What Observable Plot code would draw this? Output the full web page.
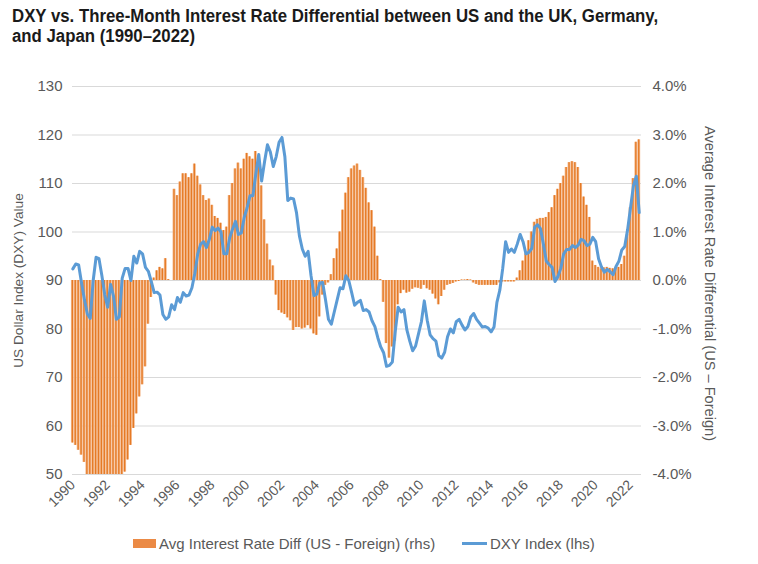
<!DOCTYPE html>
<html>
<head>
<meta charset="utf-8">
<script src="https://cdn.jsdelivr.net/npm/d3@7"></script>
<script src="https://cdn.jsdelivr.net/npm/@observablehq/plot@0.6"></script>
<style>
  body { margin: 0; background: #fff; font-family: "Liberation Sans", Arial, sans-serif; }
  #wrap { width: 758px; height: 564px; position: relative; overflow: hidden; background: #fff; }
  #title { position: absolute; left: 12px; top: 6px; font-family: "Liberation Sans", Arial, sans-serif; font-weight: bold; font-size: 18px; line-height: 20px; color: #1a1a1a; white-space: nowrap; transform: scaleX(0.933); transform-origin: left top; }
  #chart { position: absolute; left: 0; top: 60px; }
  #legend { position: absolute; left: 0; top: 533px; width: 758px; height: 20px; font-size: 15px; color: #595959; }
  .item { position: absolute; top: 0; display: flex; align-items: center; height: 20px; white-space: nowrap; }
  .sw-bar { width: 23px; height: 9px; background: #EB8A45; margin-right: 3px; }
  .sw-line { width: 25px; height: 3px; background: #5B9BD5; margin-right: 3px; }
</style>
</head>
<body>
<div id="wrap">
  <div id="title">DXY vs. Three-Month Interest Rate Differential between US and the UK, Germany,<br>and Japan (1990–2022)</div>
  <div id="chart"></div>
  <div id="legend">
    <div class="item" style="left:133px"><div class="sw-bar"></div><span>Avg Interest Rate Diff (US - Foreign) (rhs)</span></div>
    <div class="item" style="left:462px"><div class="sw-line"></div><span>DXY Index (lhs)</span></div>
  </div>
</div>
<script>
// Time index: bi-monthly observations starting January 1990
const startYear = 1990;
const stepsPerYear = 6;

// DXY index (left axis)
const dxy = [
  92.4, 93.4, 93.2, 89.5, 86.0, 83.1, 82.2, 90.0, 94.8, 94.5, 91.0, 87.0,
  84.5, 89.2, 86.8, 82.0, 82.5, 90.5, 92.5, 92.5, 90.0, 95.0, 93.6, 96.0,
  95.5, 92.7, 91.9, 89.8, 87.5, 87.6, 87.0, 83.0, 82.0, 82.5, 85.0, 84.0,
  86.5, 85.5, 87.5, 86.8, 87.0, 88.5, 91.5, 95.5, 97.5, 98.0, 96.8, 98.5,
  101.0, 100.3, 100.8, 100.0, 95.5, 95.5, 98.8, 100.6, 102.2, 99.5, 99.8, 103.0,
  105.0, 107.5, 107.5, 112.0, 116.0, 110.5, 114.5, 118.0, 116.5, 113.5, 115.5, 118.5,
  119.5, 115.5, 106.5, 107.0, 106.8, 104.0, 99.2, 96.5, 95.0, 96.0, 91.0, 86.9,
  87.2, 89.5, 89.6, 86.0, 82.0, 81.0, 83.5, 86.0, 88.5, 88.3, 91.0, 90.0,
  87.5, 84.9, 85.5, 85.9, 83.8, 84.0, 83.5, 81.7, 80.5, 78.2, 76.3, 75.1,
  72.3, 72.5, 73.2, 79.5, 84.5, 83.5, 84.0, 79.8, 77.5, 75.5, 76.5, 79.0,
  81.5, 85.8, 81.8, 78.8, 78.0, 77.5, 74.5, 74.0, 75.2, 78.4, 80.0, 79.2,
  81.5, 82.0, 80.8, 79.8, 80.5, 82.5, 83.2, 82.0, 81.2, 80.4, 80.5, 80.2,
  79.4, 80.4, 85.5, 88.0, 92.5, 98.0, 95.8, 96.5, 95.8, 97.5, 99.5, 98.0,
  95.5, 95.8, 96.6, 101.0, 101.5, 100.7, 97.5, 94.0, 93.3, 92.7, 89.8, 90.8,
  92.5, 95.5, 96.4, 96.4, 97.2, 96.8, 97.3, 98.5, 98.2, 97.2, 97.5, 98.9,
  98.0, 94.5, 92.8, 91.7, 92.3, 91.8, 91.2, 92.9, 94.0, 96.3, 97.0, 100.5,
  105.0, 109.5, 111.5, 104.0
];

// Average 3-month interest rate differential, US minus foreign, in % (right axis)
const diffPct = [
  -3.35, -3.4, -3.5, -3.6, -3.75, -4.0, -4.0, -4.0, -4.0, -4.0, -4.0, -4.0,
  -4.0, -4.0, -4.0, -4.0, -4.0, -4.0, -3.95, -3.7, -3.4, -3.05, -2.75, -2.4,
  -2.15, -1.78, -0.9, -0.35, 0.05, 0.2, 0.27, 0.24, 0.45, 0.02, 0.0, 1.88,
  1.75, 2.03, 2.2, 2.2, 2.12, 2.2, 2.4, 2.15, 1.97, 1.75, 1.65, 1.68,
  1.55, 1.32, 1.28, 1.18, 1.03, 1.1, 1.75, 2.0, 2.3, 2.42, 2.3, 2.5,
  2.62, 2.55, 2.5, 2.66, 2.47, 1.95, 1.25, 0.75, 0.42, 0.3, -0.3, -0.62,
  -0.67, -0.7, -0.77, -0.83, -1.03, -0.97, -0.97, -1.0, -0.98, -0.93, -1.0, -1.1,
  -1.13, -0.75, -0.3, -0.1, -0.05, 0.12, 0.45, 0.65, 1.0, 1.45, 1.8, 2.12,
  2.3, 2.36, 2.4, 2.27, 2.12, 1.9, 1.6, 1.44, 1.1, 0.5, 0.02, -0.45,
  -1.3, -1.6, -1.37, -1.25, -0.5, -0.27, -0.2, -0.26, -0.24, -0.18, -0.15, -0.16,
  -0.18, -0.1, -0.17, -0.2, -0.28, -0.38, -0.5, -0.33, -0.2, -0.1, -0.08, -0.06,
  -0.03, -0.02, 0.01, 0.01, 0.02, 0.01, -0.05, -0.08, -0.1, -0.1, -0.1, -0.1,
  -0.1, -0.1, -0.1, -0.05, -0.03, -0.03, -0.03, -0.03, -0.03, 0.05, 0.2, 0.4,
  0.55, 0.82, 1.0, 1.2, 1.26, 1.28, 1.28, 1.3, 1.4, 1.5, 1.75, 1.88,
  2.0, 2.15, 2.33, 2.43, 2.45, 2.43, 2.33, 2.0, 1.72, 1.55, 1.3, 0.4,
  0.31, 0.27, 0.24, 0.26, 0.27, 0.25, 0.24, 0.27, 0.27, 0.33, 0.5, 0.95,
  1.5, 2.1, 2.85, 2.9
];

// Axis ticks
const leftTicks = [50, 60, 70, 80, 90, 100, 110, 120, 130];
const yearTicks = [1990, 1992, 1994, 1996, 1998, 2000, 2002, 2004, 2006, 2008, 2010, 2012, 2014, 2016, 2018, 2020, 2022];

// right axis: 0% aligned with DXY 90, 1 percentage point = 10 DXY points
const zeroAt = 90, pctScale = 10;
const toLeft = p => zeroAt + p * pctScale;

const rows = dxy.map((v, i) => ({ t: startYear + i / stepsPerYear, dxy: v, diff: diffPct[i] }));
const half = 0.5 / stepsPerYear;

const chart = Plot.plot({
  width: 758,
  height: 465,
  marginLeft: 72,
  marginRight: 117,
  marginTop: 26,
  marginBottom: 51,
  x: { domain: [1989.98, 2022.63] },
  y: { domain: [50, 130] },
  style: { fontFamily: "'Liberation Sans', Arial, sans-serif", fontSize: "15px", color: "#595959", background: "#fff", overflow: "visible" },
  marks: [
    Plot.ruleY(leftTicks, { stroke: "#D9D9D9", strokeWidth: 1 }),
    Plot.rectY(rows, { x1: d => d.t - half, x2: d => d.t + half, y1: d => zeroAt, y2: d => toLeft(d.diff), fill: "#F4BA8F" }),
    Plot.rectY(rows, { x1: d => d.t - half * 0.45, x2: d => d.t + half * 0.45, y1: d => zeroAt, y2: d => toLeft(d.diff), fill: "#E57A25" }),
    Plot.line(rows, { x: "t", y: "dxy", stroke: "#5B9BD5", strokeWidth: 3, strokeLinejoin: "round", strokeLinecap: "round" }),
    Plot.axisY(leftTicks, { anchor: "left", tickSize: 0, tickPadding: 10, label: null, fontSize: 15 }),
    Plot.axisY(leftTicks, { anchor: "right", tickSize: 0, tickPadding: 11, label: null, textAnchor: "start", fontSize: 15,
      tickFormat: d => ((d - zeroAt) / pctScale).toFixed(1) + "%" }),
    Plot.axisX(yearTicks, { anchor: "bottom", tickSize: 0, tickPadding: 8, tickRotate: -45, label: null, fontSize: 14,
      tickFormat: d => String(d) }),
    Plot.text(["US Dollar Index (DXY) Value"], { frameAnchor: "left", dx: -54, rotate: -90, textAnchor: "middle", fill: "#595959", fontSize: 13.7 }),
    Plot.text(["Average Interest Rate Differential (US – Foreign)"], { frameAnchor: "right", dx: 68, dy: 3, rotate: 90, textAnchor: "middle", fill: "#595959", fontSize: 14.6 })
  ]
});
document.getElementById("chart").appendChild(chart);
</script>
</body>
</html>
